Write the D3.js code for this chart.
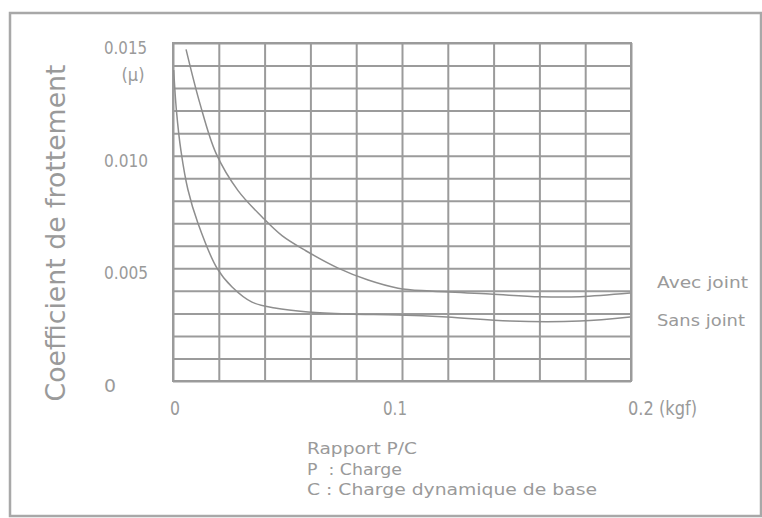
<!DOCTYPE html>
<html>
<head>
<meta charset="utf-8">
<script src="https://cdn.jsdelivr.net/npm/d3@7"></script>
<style>
  html, body { margin: 0; padding: 0; background: #fff; }
  svg { display: block; }
</style>
</head>
<body>
<svg id="chart" width="762" height="518"></svg>
<script>
// ---- data ----
const xTickValues = [0, 0.1, 0.2];
const xTickLabels = ["0", "0.1", "0.2 (kgf)"];
const yTickValues = [0, 0.005, 0.010, 0.015];
const yTickLabels = ["0", "0.005", "0.010", "0.015"];
const seriesNames = ["Avec joint", "Sans joint"];

// Avec joint : [P/C, mu]
const avecJoint = [
  [0.0057, 0.01472], [0.0118, 0.01230], [0.0188, 0.01010], [0.0284, 0.00845],
  [0.0389, 0.00728], [0.0476, 0.00645], [0.0580, 0.00578], [0.0721, 0.00501],
  [0.0852, 0.00448], [0.0983, 0.00412], [0.1122, 0.00399], [0.1384, 0.00386],
  [0.1603, 0.00374], [0.1777, 0.00374], [0.1996, 0.00390]
];
// Sans joint : [P/C, mu]
const sansJoint = [
  [0.0003, 0.01380], [0.0015, 0.01200], [0.0035, 0.01020], [0.0065, 0.00850],
  [0.0109, 0.00700], [0.0192, 0.00501], [0.0258, 0.00417], [0.0345, 0.00350],
  [0.0445, 0.00324], [0.0590, 0.00306], [0.0764, 0.00297], [0.0983, 0.00293],
  [0.1197, 0.00284], [0.1472, 0.00266], [0.1777, 0.00266], [0.1996, 0.00284]
];

// ---- drawing ----
(function () {
const svg = d3.select("#chart");
const grey = "#9b9b9b";
const textGrey = "#9a9a9a";
const tickFont = "'Liberation Sans Narrow', 'DejaVu Sans Condensed', 'Liberation Sans', sans-serif";
const bodyFont = "'DejaVu Sans', 'Open Sans', sans-serif";

const mLeft = 173, mRight = 631, mTop = 43, mBottom = 381;
const x = d3.scaleLinear().domain([0, 0.2]).range([mLeft, mRight]);
const y = d3.scaleLinear().domain([0, 0.015]).range([mBottom, mTop]);

// outer frame
svg.append("rect")
  .attr("x", 10).attr("y", 13).attr("width", 751).attr("height", 503)
  .attr("fill", "none").attr("stroke", "#a8a8a8").attr("stroke-width", 2.5);

// grid via axes
const xGrid = d3.range(0, 11).map(i => i * 0.02);
const yGrid = d3.range(0, 16).map(i => i * 0.001);

const gx = svg.append("g").attr("transform", `translate(0,${mBottom})`)
  .call(d3.axisBottom(x).tickValues(xGrid).tickSize(-(mBottom - mTop)).tickFormat(""));
const gy = svg.append("g").attr("transform", `translate(${mLeft},0)`)
  .call(d3.axisLeft(y).tickValues(yGrid).tickSize(-(mRight - mLeft)).tickFormat(""));
[gx, gy].forEach(g => {
  g.select(".domain").remove();
  g.selectAll(".tick line").attr("stroke", grey).attr("stroke-width", 2);
});
// plot border
svg.append("rect")
  .attr("x", mLeft).attr("y", mTop).attr("width", mRight - mLeft).attr("height", mBottom - mTop)
  .attr("fill", "none").attr("stroke", grey).attr("stroke-width", 2);

// curves
const line = d3.line().x(d => x(d[0])).y(d => y(d[1])).curve(d3.curveCatmullRom.alpha(0.5));
[avecJoint, sansJoint].forEach(s => {
  svg.append("path").datum(s).attr("d", line)
    .attr("fill", "none").attr("stroke", "#8e8e8e").attr("stroke-width", 1.5);
});

// y tick labels (left aligned)
const yTickWidths = [12, 44, 44, 43];
yTickValues.forEach((v, i) => {
  svg.append("text")
    .attr("x", 104).attr("y", y(v) + 11)
    .attr("font-family", tickFont).attr("font-size", 18)
    .attr("fill", textGrey)
    .attr("textLength", yTickWidths[i]).attr("lengthAdjust", "spacingAndGlyphs")
    .text(yTickLabels[i]);
});
svg.append("text")
  .attr("x", 133).attr("y", y(0.015) + 38)
  .attr("text-anchor", "middle")
  .attr("font-family", tickFont).attr("font-size", 18)
  .attr("fill", textGrey)
  .text("(\u03bc)");

// x tick labels
const xTickDx = [-3, -19, -3];
const xTickWidths = [10, 24, 69];
xTickValues.forEach((v, i) => {
  svg.append("text")
    .attr("x", x(v) + xTickDx[i]).attr("y", 415)
    .attr("font-family", tickFont).attr("font-size", 20)
    .attr("fill", textGrey)
    .attr("textLength", xTickWidths[i]).attr("lengthAdjust", "spacingAndGlyphs")
    .text(xTickLabels[i]);
});

// y axis title
svg.append("text")
  .attr("transform", "translate(65,233) rotate(-90)")
  .attr("text-anchor", "middle")
  .attr("font-family", bodyFont).attr("font-size", 26)
  .attr("fill", textGrey)
  .attr("textLength", 337).attr("lengthAdjust", "spacingAndGlyphs")
  .text("Coefficient de frottement");

// x axis notes
const notes = ["Rapport P/C", "P  : Charge", "C : Charge dynamique de base"];
const noteWidths = [110, 95, 290];
const noteY = [454, 475, 495];
notes.forEach((t, i) => {
  svg.append("text")
    .attr("x", 307).attr("y", noteY[i])
    .attr("xml:space", "preserve")
    .attr("font-family", bodyFont).attr("font-size", 16)
    .attr("fill", textGrey)
    .attr("textLength", noteWidths[i]).attr("lengthAdjust", "spacingAndGlyphs")
    .text(t);
});

// series labels
const labelY = [288, 326];
const labelW = [91, 88];
seriesNames.forEach((t, i) => {
  svg.append("text")
    .attr("x", 657).attr("y", labelY[i])
    .attr("font-family", bodyFont).attr("font-size", 15.5)
    .attr("fill", textGrey)
    .attr("textLength", labelW[i]).attr("lengthAdjust", "spacingAndGlyphs")
    .text(t);
});
})();
</script>
</body>
</html>
